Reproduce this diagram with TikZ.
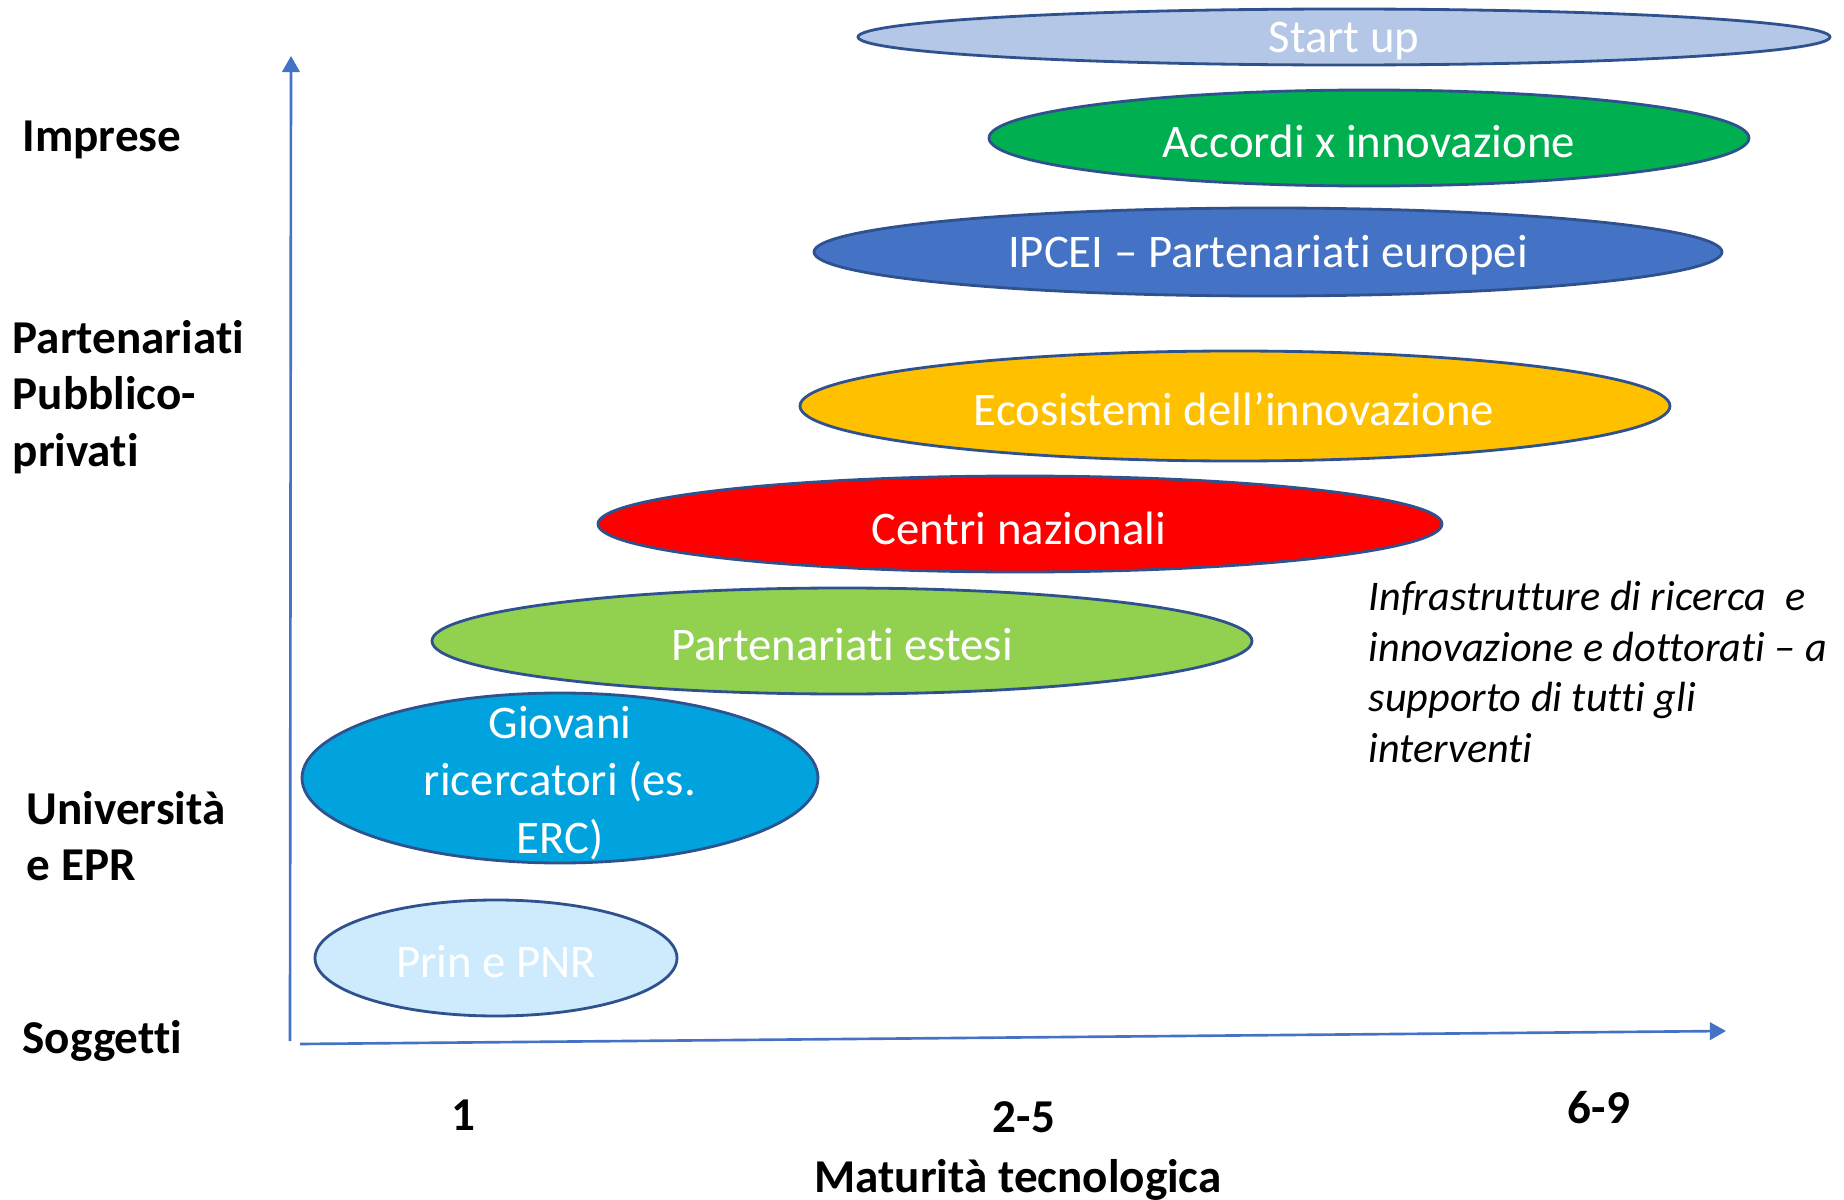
\documentclass[tikz,border=0pt]{standalone}
\usepackage{fontspec}
\setmainfont{Carlito}[Ligatures=NoCommon,Contextuals=NoAlternate]
\usepackage{tikz}
\usetikzlibrary{arrows.meta}

\definecolor{edgeblue}{HTML}{2F528F}
\definecolor{axisblue}{HTML}{4472C4}
\definecolor{startfill}{HTML}{B4C7E7}
\definecolor{accordifill}{HTML}{00B050}
\definecolor{ipceifill}{HTML}{4472C4}
\definecolor{ecofill}{HTML}{FFC000}
\definecolor{centrifill}{HTML}{FF0000}
\definecolor{estesifill}{HTML}{92D050}
\definecolor{giovanifill}{HTML}{00A3DD}
\definecolor{prinfill}{HTML}{CDEBFC}

\tikzset{
  bubble/.style={draw=edgeblue,line width=0.8pt},
  bubtext/.style={text=white,inner sep=0pt,align=center,font=\fontsize{13.3}{16.4}\selectfont},
  sidelabel/.style={inner sep=0pt,align=left,anchor=west,font=\bfseries\fontsize{13.4}{16.1}\selectfont},
  ticklabel/.style={inner sep=0pt,font=\bfseries\fontsize{13.4}{16}\selectfont},
  axis/.style={draw=axisblue,line width=0.75pt,-{Triangle[width=5pt,length=4.6pt]}},
}

\begin{document}
\begin{tikzpicture}[x=0.01cm,y=-0.01cm]
  \useasboundingbox (0,0) rectangle (1844,1200);

  % ellipses, top to bottom
  \draw[bubble,fill=startfill] (1344,37) ellipse (486 and 28);
  \node[bubtext](startup) at (1344,41) {Start up};
  \draw[bubble,fill=accordifill] (1369,138) ellipse (380 and 48);
  \node[bubtext](accordi) at (1369,141) {Accordi x innovazione};
  \draw[bubble,fill=ipceifill] (1268,252) ellipse (454 and 44);
  \node[bubtext](ipcei) at (1268,255) {IPCEI -- Partenariati europei};
  \draw[bubble,fill=ecofill] (1235,406) ellipse (435 and 55);
  \node[bubtext](ecosistemi) at (1234,409) {Ecosistemi dell’innovazione};
  \draw[bubble,fill=centrifill] (1020,524) ellipse (422 and 48);
  \node[bubtext](centri) at (1019,528) {Centri nazionali};
  \draw[bubble,fill=estesifill] (842,641) ellipse (410 and 53);
  \node[bubtext](estesi) at (842,645) {Partenariati estesi};
  \draw[bubble,fill=giovanifill] (560,778) ellipse (258 and 85);
  \node[bubtext](giovani) at (560,783) {Giovani\\ricercatori (es.\\ERC)};
  \draw[bubble,fill=prinfill] (496,958) ellipse (181 and 58);
  \node[bubtext](prin) at (496,962) {Prin e PNR};

  % axes
  \coordinate (yfoot) at (290,1041);
  \coordinate (ytop) at (291,56);
  \coordinate (xfoot) at (300,1044);
  \coordinate (xend) at (1726,1031);
  \draw[axis] (yfoot) -- (ytop);
  \draw[axis] (xfoot) -- (xend);

  % labels on the left
  \node[sidelabel](imprese) at (22,140) {Imprese};
  \node[sidelabel](ppp) at (12,397) {Partenariati\\Pubblico-\\privati};
  \node[sidelabel](univ) at (26,836) {Università\\e EPR};
  \node[sidelabel](soggetti) at (22,1041) {Soggetti};

  % maturity scale
  \node[ticklabel](t1) at (463,1115) {1};
  \node[ticklabel](t25) at (1024,1117) {2-5};
  \node[ticklabel](t69) at (1599,1108) {6-9};
  \node[ticklabel](maturita) at (1018,1180) {Maturità tecnologica};

  \node[inner sep=0pt,align=left,anchor=west,font=\itshape\fontsize{12}{14.4}\selectfont](infra) at (1368,672)
    {Infrastrutture di ricerca\ \ e\\innovazione e dottorati -- a\\supporto di tutti gli\\interventi};
\end{tikzpicture}
\end{document}
